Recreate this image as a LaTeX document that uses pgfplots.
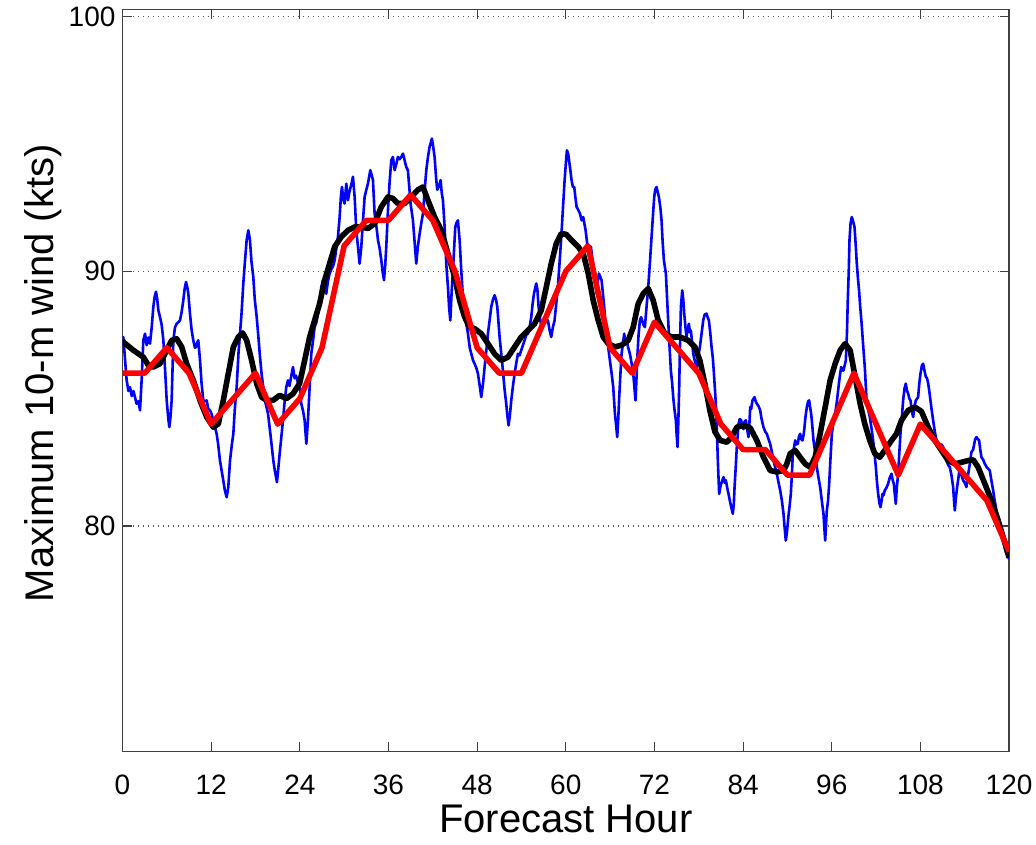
\documentclass[border=0pt]{standalone}
\usepackage{fontspec}
\setmainfont{Liberation Sans}
\usepackage{pgfplots}
\pgfplotsset{compat=1.18}

\begin{document}
\begin{tikzpicture}
\begin{axis}[
    scale only axis,
    width=443.25pt, height=370.85pt,
    xmin=0, xmax=120, ymin=71.15, ymax=100.27,
    xtick={0,12,...,120}, ytick={80,90,100},
    tick align=inside, tick pos=both,
    major tick length=4.5pt,
    axis line style={black!75, line width=0.6pt},
    every tick/.style={black!75, line width=0.6pt},
    ymajorgrids,
    grid style={black!65, line width=0.6pt, dash pattern=on 0.7pt off 1.8pt},
    /pgf/number format/assume math mode=true,
    ticklabel style={font=\fontsize{14}{17}\selectfont},
    xticklabel style={yshift=-8pt, inner xsep=1pt},
    label style={font=\fontsize{20}{24}\selectfont},
    xlabel={Forecast Hour},
    ylabel={Maximum 10-m wind (kts)},
    xlabel style={at={(axis description cs:0.5,-0.0628)}, anchor=north},
    ylabel style={at={(axis description cs:-0.061,0.51)}, anchor=south, rotate=0},
  ]
% raw maximum wind
\addplot[blue, line width=1.3pt, line join=round] coordinates {
(0.0,87.2) (0.11,87.42) (0.35,86.5) (0.56,85.72) (0.8,85.3) (1.01,85.45) (1.25,85.1) (1.47,85.3)
(1.69,85.06) (1.9,84.8) (2.15,84.9) (2.37,84.54) (2.6,85.8) (2.82,87.3) (3.05,87.55) (3.27,87.1)
(3.5,87.4) (3.72,87.16) (3.95,87.8) (4.17,88.6) (4.35,89.0) (4.53,89.2) (4.7,88.9) (4.85,88.47)
(5.07,88.21) (5.3,87.9) (5.53,87.29) (5.75,86.2) (5.98,84.93) (6.2,84.2) (6.34,83.88) (6.5,84.3)
(6.65,84.93) (6.88,87.29) (7.1,87.8) (7.33,87.94) (7.55,88.0) (7.78,88.07) (8.0,88.4) (8.23,88.86)
(8.4,89.3) (8.59,89.58) (8.75,89.4) (8.91,89.12) (9.13,88.34) (9.35,87.7) (9.58,87.29) (9.8,87.0)
(9.95,87.03) (10.1,87.2) (10.26,87.29) (10.49,86.5) (10.7,85.6) (10.94,84.93) (11.15,84.9) (11.39,84.93)
(11.6,84.6) (11.84,84.54) (12.05,84.4) (12.29,84.15) (12.5,83.9) (12.74,83.62) (12.95,83.2) (13.19,82.57)
(13.4,82.2) (13.64,81.79) (13.85,81.4) (14.1,81.13) (14.32,81.53) (14.55,82.57) (14.8,83.2) (15.0,83.62)
(15.2,84.6) (15.45,85.45) (15.7,86.8) (15.9,87.55) (16.1,88.3) (16.35,89.52) (16.6,90.5) (16.8,91.22)
(17.03,91.61) (17.25,91.22) (17.45,90.4) (17.7,89.78) (17.9,88.9) (18.16,88.21) (18.4,87.4) (18.61,86.63)
(18.85,85.9) (19.06,85.45) (19.3,84.9) (19.7,84.4) (20.1,83.4) (20.4,82.6) (20.6,82.2) (20.9,81.72)
(21.1,82.3) (21.27,82.84) (21.5,83.5) (21.72,84.15) (21.95,84.9) (22.17,85.46) (22.4,85.72) (22.6,85.5)
(22.85,85.9) (23.07,86.24) (23.3,85.8) (23.5,85.9) (23.75,85.6) (23.97,85.5) (24.2,84.8) (24.45,84.5)
(24.65,84.15) (24.88,83.23) (25.1,84.15) (25.33,85.46) (25.55,86.76) (25.8,87.3) (26.0,87.81) (26.25,88.0)
(26.46,88.34) (26.7,88.9) (26.91,89.38) (27.13,89.65) (27.35,89.3) (27.58,89.12) (27.8,89.6) (28.03,89.91)
(28.3,90.1) (28.5,90.2) (28.71,90.43) (28.95,90.9) (29.16,91.35) (29.39,92.13) (29.55,92.9) (29.7,93.31)
(29.9,92.8) (30.06,92.66) (30.29,93.44) (30.52,92.79) (30.7,93.1) (30.88,93.31) (31.05,93.5) (31.19,93.71)
(31.42,92.92) (31.64,91.61) (31.87,90.96) (32.09,90.3) (32.32,90.96) (32.55,92.0) (32.77,92.92) (33.0,93.2)
(33.22,93.44) (33.54,93.97) (33.7,93.8) (33.9,93.58) (34.12,92.27) (34.35,91.8) (34.58,91.22) (34.8,90.9)
(35.03,90.43) (35.2,90.0) (35.39,89.65) (35.55,90.2) (35.7,90.96) (35.93,92.4) (36.15,93.5) (36.38,94.36)
(36.6,94.49) (36.83,93.97) (37.05,94.2) (37.28,94.49) (37.5,94.4) (37.73,94.49) (37.96,94.62) (38.18,94.36)
(38.4,94.1) (38.63,93.97) (38.99,92.66) (39.31,92.0) (39.55,91.1) (39.76,90.3) (39.99,91.0) (40.22,91.48)
(40.45,91.9) (40.67,92.27) (40.9,93.2) (41.12,93.97) (41.35,94.5) (41.57,94.89) (41.88,95.21) (42.05,94.9)
(42.24,94.49) (42.47,93.58) (42.6,93.2) (42.79,93.31) (43.06,93.58) (43.2,93.1) (43.37,92.79) (43.6,91.74)
(43.82,90.3) (44.05,89.38) (44.2,88.6) (44.37,88.07) (44.55,89.2) (44.73,90.04) (45.04,91.74) (45.2,91.9)
(45.4,92.0) (45.63,91.22) (45.85,90.04) (46.08,88.99) (46.3,88.34) (46.5,88.0) (46.76,87.55) (47.0,87.0)
(47.21,86.76) (47.45,86.5) (47.66,86.37) (47.9,86.2) (48.11,85.98) (48.35,85.5) (48.56,85.06) (48.8,85.6)
(49.01,86.24) (49.25,86.9) (49.46,87.55) (49.7,88.1) (49.91,88.6) (50.15,88.9) (50.36,89.06) (50.55,88.9)
(50.73,88.6) (51.04,87.42) (51.25,86.8) (51.49,86.11) (51.7,85.4) (51.94,84.8) (52.1,84.3) (52.26,83.95)
(52.45,84.4) (52.62,84.93) (52.85,85.5) (53.07,85.98) (53.3,86.4) (53.52,86.76) (53.75,86.7) (53.97,86.9)
(54.2,87.1) (54.42,87.29) (54.65,87.5) (54.88,87.55) (55.1,87.8) (55.33,88.21) (55.5,88.7) (55.69,89.12)
(56.0,89.52) (56.15,89.3) (56.32,88.6) (56.5,88.2) (56.68,87.81) (56.9,88.0) (57.13,88.21) (57.35,88.0)
(57.58,88.07) (57.8,87.7) (58.03,87.42) (58.25,87.8) (58.48,88.07) (58.7,88.7) (58.93,89.38) (59.15,90.3)
(59.39,91.35) (59.6,92.4) (59.84,93.58) (60.0,94.2) (60.15,94.75) (60.33,94.6) (60.56,94.1) (60.78,93.58)
(60.96,93.31) (61.14,93.31) (61.3,92.9) (61.46,92.53) (61.7,92.4) (61.91,92.27) (62.15,92.0) (62.36,92.13)
(62.5,91.9) (62.68,91.61) (62.95,90.96) (63.15,91.0) (63.4,90.96) (63.55,90.6) (63.71,90.3) (63.95,89.7)
(64.17,89.12) (64.3,89.5) (64.48,89.91) (64.65,89.8) (64.84,89.65) (65.0,89.2) (65.2,88.6) (65.35,88.0)
(65.52,87.42) (65.75,87.0) (65.97,86.5) (66.2,86.0) (66.42,85.46) (66.65,84.41) (66.8,84.0) (66.96,83.49)
(67.1,84.2) (67.23,85.06) (67.4,86.0) (67.55,86.76) (67.75,87.2) (67.91,87.55) (68.05,87.2) (68.22,87.29)
(68.45,87.0) (68.68,86.76) (68.9,86.4) (69.13,85.98) (69.3,85.4) (69.44,84.93) (69.6,86.0) (69.71,86.76)
(69.85,87.5) (70.03,88.07) (70.2,88.2) (70.34,88.07) (70.5,87.9) (70.71,87.81) (70.9,88.5) (71.16,89.38)
(71.4,90.4) (71.61,91.35) (71.8,92.2) (71.97,92.92) (72.1,93.2) (72.28,93.31) (72.45,93.1) (72.6,92.92)
(72.8,92.5) (72.96,92.0) (73.1,91.2) (73.28,90.43) (73.4,90.2) (73.55,89.91) (73.7,89.0) (73.86,88.07)
(74.05,87.0) (74.22,86.11) (74.4,85.6) (74.54,85.06) (74.7,84.6) (74.9,84.15) (75.0,83.6) (75.13,83.1)
(75.25,84.3) (75.35,85.46) (75.45,87.0) (75.58,88.6) (75.76,89.25) (75.9,88.9) (76.03,88.34) (76.2,87.8)
(76.34,87.42) (76.5,87.7) (76.66,87.94) (76.8,87.6) (76.93,87.68) (77.1,87.2) (77.25,86.76) (77.45,86.5)
(77.7,86.24) (77.9,86.6) (78.15,87.03) (78.4,87.6) (78.6,88.07) (78.8,88.3) (79.05,88.34) (79.2,88.2)
(79.37,88.07) (79.55,87.6) (79.73,87.03) (79.9,86.6) (80.05,86.0) (80.31,84.8) (80.45,83.8) (80.58,82.57)
(80.76,81.26) (80.9,81.5) (81.03,81.66) (81.2,81.8) (81.35,81.92) (81.5,81.7) (81.66,81.8) (81.85,81.5)
(82.03,81.26) (82.2,81.0) (82.39,80.74) (82.61,80.48) (82.75,80.9) (82.84,81.5) (83.0,82.3) (83.15,83.1)
(83.38,84.01) (83.55,84.2) (83.74,84.15) (83.9,83.9) (84.05,83.8) (84.2,84.1) (84.37,84.15) (84.55,83.8)
(84.73,83.49) (84.85,84.0) (84.96,84.67) (85.1,84.6) (85.27,84.93) (85.54,85.06) (85.7,84.9) (85.86,84.8)
(86.1,84.7) (86.31,84.54) (86.5,84.2) (86.76,83.88) (87.0,83.7) (87.21,83.62) (87.45,83.4) (87.66,83.23)
(87.9,82.9) (88.11,82.57) (88.35,82.3) (88.57,82.05) (88.8,81.7) (89.02,81.4) (89.25,81.0) (89.47,80.48)
(89.6,80.0) (89.78,79.43) (89.95,79.8) (90.14,80.4) (90.3,80.8) (90.46,81.26) (90.6,82.0) (90.73,82.84)
(90.9,83.1) (91.05,83.36) (91.2,83.2) (91.41,83.23) (91.55,83.5) (91.72,83.62) (91.9,83.4) (92.04,83.36)
(92.2,83.6) (92.31,83.88) (92.45,84.3) (92.63,84.67) (92.8,84.9) (92.94,84.93) (93.05,84.7) (93.21,84.41)
(93.35,84.0) (93.53,83.36) (93.75,82.9) (93.98,82.31) (94.2,81.9) (94.43,81.53) (94.65,81.0) (94.88,80.48)
(95.0,79.9) (95.11,79.43) (95.25,80.2) (95.33,80.6) (95.5,81.0) (95.65,81.66) (95.8,82.5) (96.01,83.62)
(96.2,84.0) (96.46,84.41) (96.7,84.9) (96.91,85.45) (97.1,85.9) (97.27,86.24) (97.45,86.1) (97.59,86.11)
(97.75,86.3) (97.9,86.5) (98.05,87.5) (98.17,88.86) (98.3,90.0) (98.4,91.22) (98.55,91.9) (98.71,92.13)
(98.85,92.0) (99.08,91.74) (99.25,91.0) (99.39,90.3) (99.55,89.7) (99.71,89.2) (99.85,88.6) (100.03,88.0)
(100.25,87.1) (100.48,86.2) (100.7,85.0) (100.9,84.6) (101.15,84.28) (101.4,83.8) (101.6,83.36) (101.8,82.8)
(101.97,82.31) (102.1,81.8) (102.28,81.26) (102.45,80.9) (102.6,80.74) (102.75,81.0) (102.87,81.26) (103.0,81.2)
(103.18,81.4) (103.4,81.5) (103.63,81.66) (103.85,81.9) (104.09,82.05) (104.25,81.8) (104.4,81.66) (104.55,81.2)
(104.67,80.87) (104.8,81.5) (104.99,82.05) (105.15,82.9) (105.3,83.62) (105.5,84.3) (105.66,84.93) (105.85,85.4)
(106.02,85.59) (106.2,85.3) (106.34,85.2) (106.5,85.0) (106.66,84.93) (106.85,84.5) (107.02,84.28) (107.2,84.7)
(107.38,84.93) (107.55,85.0) (107.69,85.06) (107.85,85.6) (108.01,85.98) (108.2,86.3) (108.37,86.37) (108.55,86.1)
(108.73,85.86) (108.9,85.8) (109.05,85.6) (109.2,85.3) (109.36,84.93) (109.55,84.5) (109.72,84.15) (109.95,83.7)
(110.17,83.36) (110.4,83.2) (110.63,83.1) (110.85,83.2) (111.08,83.1) (111.3,82.8) (111.53,82.57) (111.75,82.4)
(111.98,82.31) (112.2,82.0) (112.43,81.53) (112.55,81.0) (112.66,80.61) (112.8,81.1) (112.97,81.53) (113.15,81.9)
(113.33,82.31) (113.55,82.0) (113.78,81.79) (114.0,81.7) (114.23,81.53) (114.45,82.0) (114.69,82.44) (114.9,82.9)
(115.14,83.0) (115.4,83.4) (115.59,83.49) (115.8,83.4) (115.95,83.36) (116.1,83.0) (116.26,82.7) (116.5,82.6)
(116.72,82.44) (117.0,82.3) (117.39,82.18) (117.6,81.8) (117.84,81.41) (118.05,81.0) (118.29,80.61) (118.5,80.3)
(118.74,79.95) (119.0,79.7) (119.2,79.43) (119.45,79.1) (119.65,78.91) (119.87,78.8) (120.0,78.7)
};
% smoothed
\addplot[black, line width=2.8pt, line join=round] coordinates {
(0,87.3) (0.11,87.22) (1.47,86.9) (2.82,86.63) (3.5,86.31) (4.17,86.24) (5.07,86.37) (5.98,86.9)
(6.65,87.29) (7.33,87.35) (8.01,87.03) (8.68,86.37) (9.58,85.72) (10.49,84.93) (11.39,84.28) (12.29,83.88)
(12.97,84.01) (13.64,84.93) (14.32,85.98) (15.0,87.03) (15.67,87.42) (16.26,87.58) (16.8,87.29) (17.48,86.5)
(18.16,85.59) (18.83,85.06) (19.51,84.93) (20.37,84.93) (21.27,85.13) (22.17,85.0) (23.07,85.19) (23.97,85.59)
(24.65,86.5) (25.33,87.42) (26.0,88.07) (26.68,88.73) (27.36,89.65) (28.03,90.3) (28.71,90.96) (29.61,91.35)
(30.52,91.61) (31.42,91.74) (32.32,91.74) (33.22,91.68) (34.12,91.87) (35.03,92.53) (35.93,92.92) (36.6,92.86)
(37.28,92.66) (38.18,92.66) (39.09,92.92) (39.99,93.2) (40.67,93.31) (41.34,92.79) (42.24,92.13) (43.15,91.61)
(44.05,90.69) (44.95,89.78) (45.63,88.86) (46.3,88.21) (46.98,87.81) (47.66,87.75) (48.56,87.55) (49.46,87.16)
(50.36,86.76) (51.27,86.5) (52.17,86.63) (53.07,87.03) (53.97,87.42) (54.88,87.68) (55.78,87.94) (56.68,88.47)
(57.36,89.38) (58.03,90.3) (58.71,91.09) (59.39,91.48) (60.06,91.45) (60.78,91.22) (61.68,90.96) (62.36,90.69)
(63.04,89.91) (63.71,88.86) (64.39,88.07) (65.07,87.42) (65.74,87.16) (66.65,87.03) (67.55,87.1) (68.45,87.29)
(69.13,87.81) (69.8,88.73) (70.48,89.12) (71.16,89.32) (71.83,88.86) (72.51,88.07) (73.41,87.55) (74.31,87.42)
(75.44,87.42) (76.57,87.29) (77.47,87.03) (78.15,86.5) (78.82,85.59) (79.5,84.54) (80.18,83.7) (80.9,83.36)
(81.8,83.29) (82.48,83.5) (83.15,83.88) (84.05,83.95) (84.96,83.85) (85.86,83.36) (86.76,82.7) (87.66,82.18)
(88.57,82.12) (89.47,82.18) (89.92,82.44) (90.37,82.84) (91.05,82.97) (91.72,82.7) (92.4,82.44) (93.08,82.31)
(93.75,82.7) (94.43,83.62) (95.11,84.67) (95.78,85.72) (96.46,86.37) (97.14,86.9) (97.81,87.16) (98.49,86.9)
(99.17,85.85) (99.84,84.8) (100.48,84.0) (101.15,83.36) (101.83,82.84) (102.51,82.7) (103.18,82.97) (104.09,83.36)
(104.76,83.62) (105.44,84.15) (106.34,84.54) (107.24,84.67) (108.14,84.5) (109.05,83.88) (109.95,83.36) (110.85,82.97)
(111.75,82.57) (112.66,82.44) (113.56,82.5) (114.46,82.57) (115.14,82.6) (115.81,82.31) (116.72,81.66) (117.62,81.0)
(118.52,80.22) (119.2,79.56) (119.87,78.91) (120,78.75)
};
% 3-hourly
\addplot[red, line width=2.8pt, line join=round] coordinates {
(0,86) (3,86) (6,87) (9,86) (12,84) (15,85) (18,86) (21,84) (24,85) (27,87)
(30,91) (33,92) (36,92) (39,93) (42,92) (45,90) (48,87) (51,86) (54,86) (57,88)
(60,90) (63,91) (66,87) (69,86) (72,88) (75,87) (78,86) (81,84) (84,83) (87,83)
(90,82) (93,82) (96,84) (99,86) (102,84) (105,82) (108,84) (111,83) (114,82) (117,81) (120,79)
};
\coordinate (bl) at (rel axis cs:-0.1382,-0.1258);
\coordinate (tr) at (rel axis cs:1.0304,1.0121);
\end{axis}
\path (bl) rectangle (tr);
\end{tikzpicture}
\end{document}
